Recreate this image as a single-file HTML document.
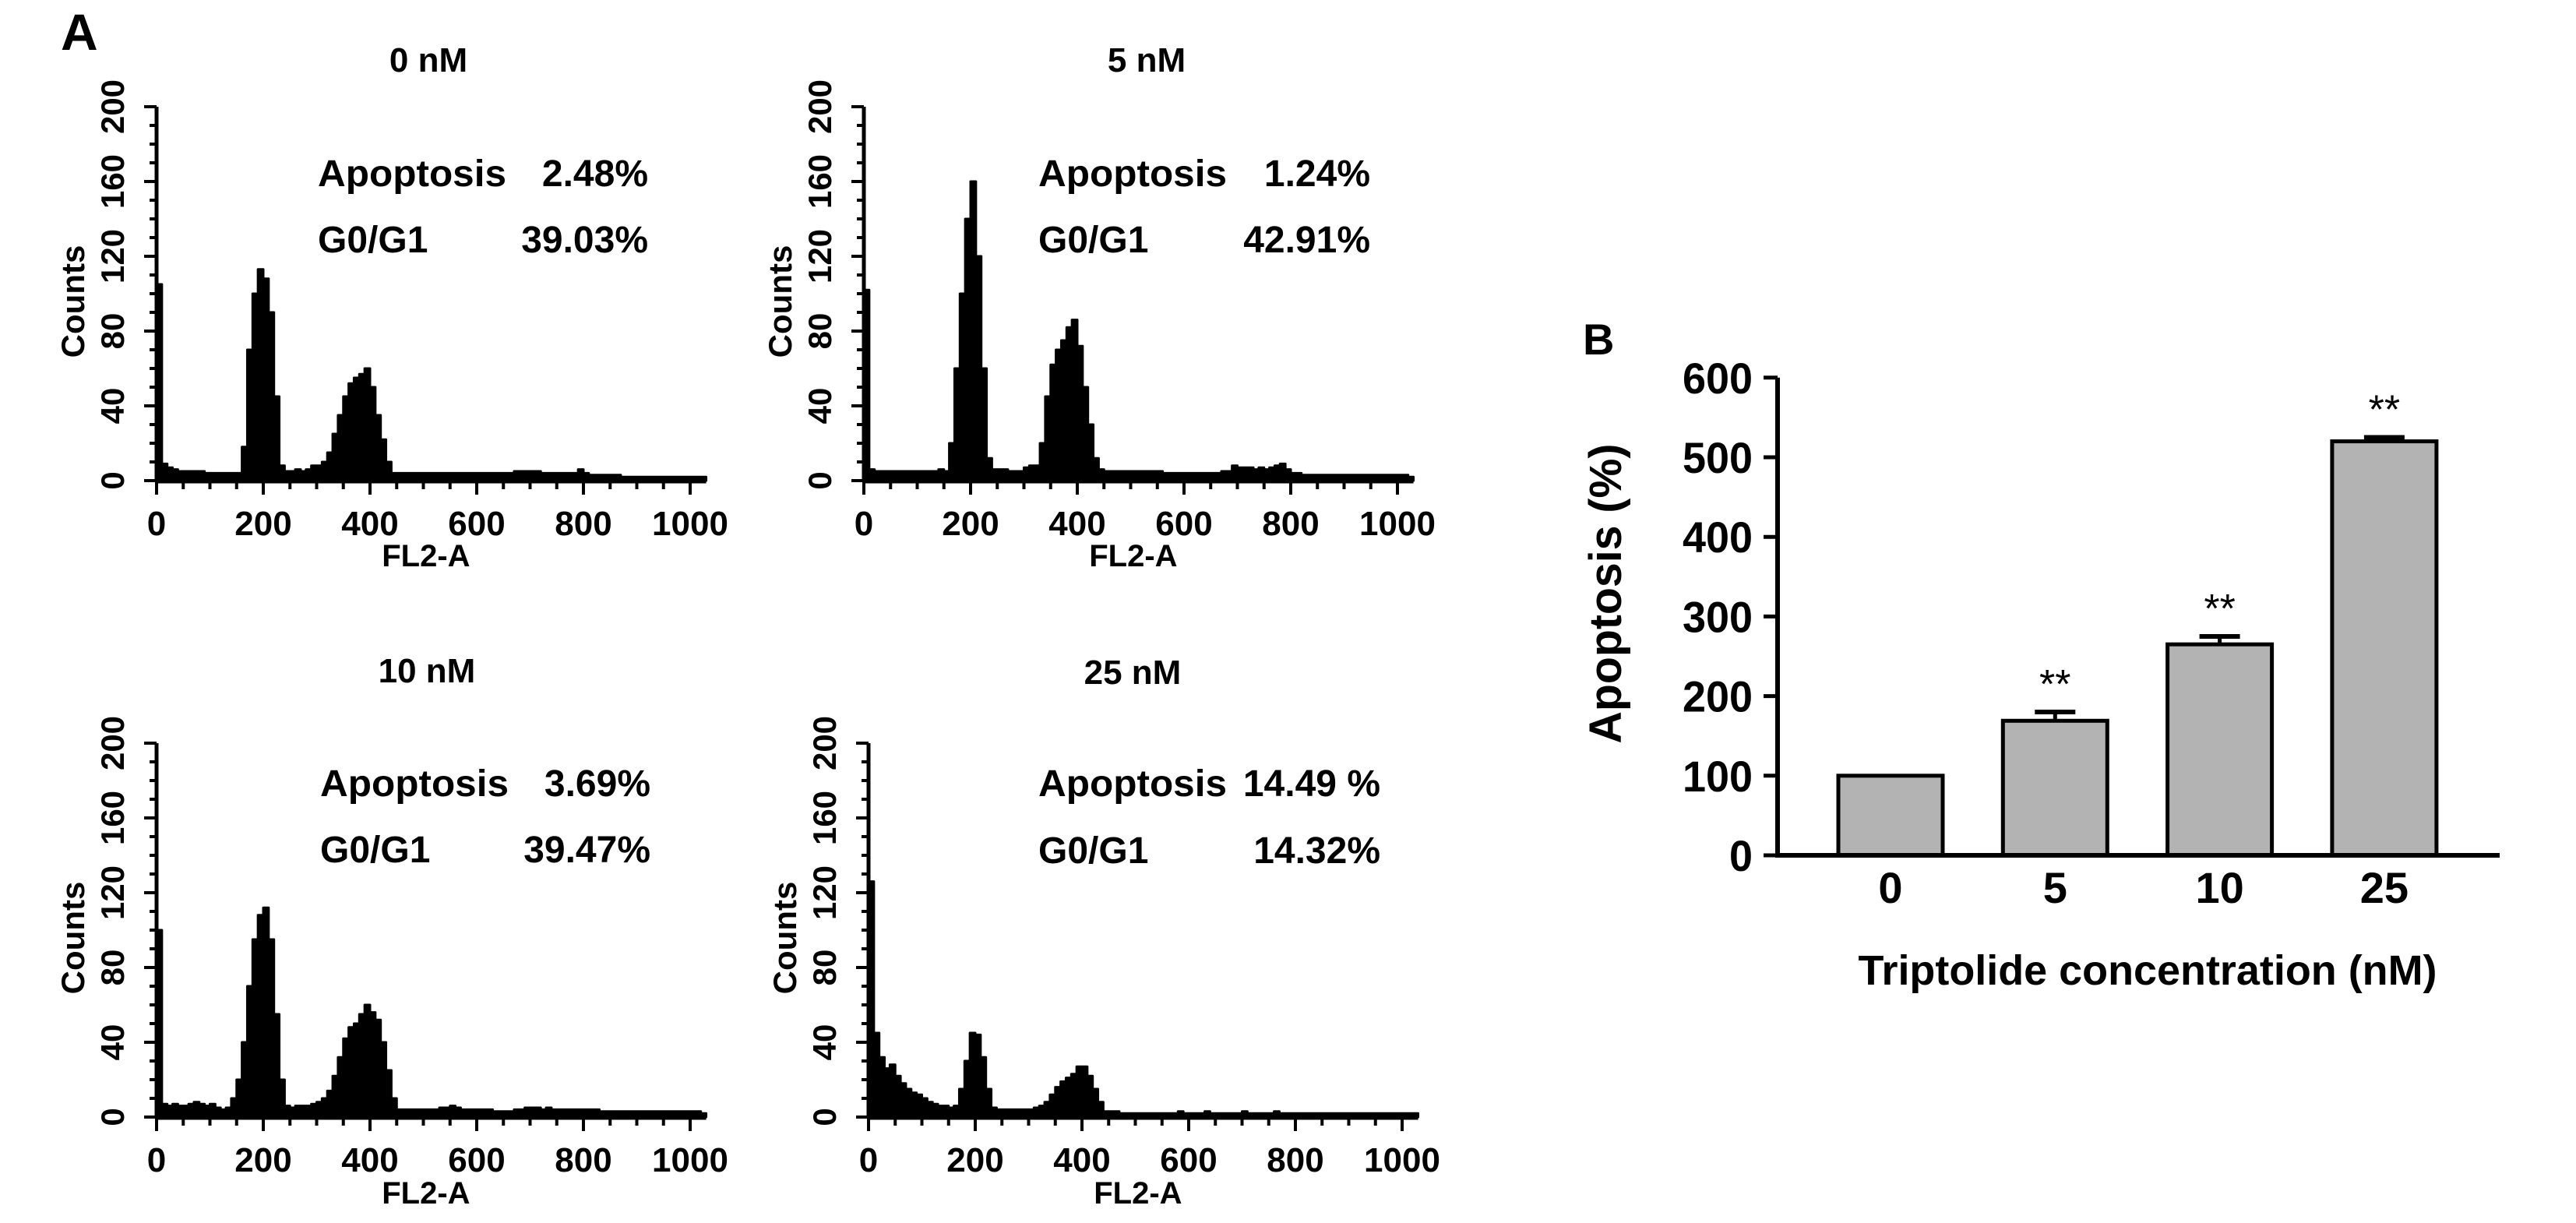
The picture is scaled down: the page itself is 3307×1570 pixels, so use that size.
<!DOCTYPE html>
<html><head><meta charset="utf-8"><style>
html,body{margin:0;padding:0;background:#fff;}
svg{display:block;font-family:"Liberation Sans",Arial,sans-serif;}
</style></head>
<body>
<svg id="fig" width="3307" height="1570" viewBox="0 0 3307 1570" xmlns="http://www.w3.org/2000/svg">
<rect x="0" y="0" width="3307" height="1570" fill="#fff"/>
<text x="78" y="64" font-size="66" font-weight="bold">A</text>
<text x="2032" y="455" font-size="56" font-weight="bold">B</text>
<g id="hists"></g>
<g id="bars"></g>
</svg>
<script>
// ---- Histogram data (counts per 10-unit FL2-A bin, 0..1020) ----
const hist0nM = [105,9,7,6,5,5,5,5,5,4, 4,4,4,4,4,4,18,70,100,113, 108,90,45,8,5,5,6,5,6,8, 8,10,15,25,35,45,52,55,57,60, 50,35,22,10,4,4,4,4,4,4, 4,4,4,4,4,4,4,4,4,4, 4,4,4,4,4,4,4,5,5,5, 5,5,4,4,4,4,4,4,4,6, 4,3,3,3,3,3,3,2,2,2, 2,2,2,2,2,2,2,2,2,2, 2,2,2];
const hist5nM = [102,6,5,5,5,5,5,5,5,5, 5,5,5,5,6,5,20,60,100,140, 160,120,60,12,6,6,6,5,5,5, 7,8,8,20,45,62,70,75,82,86, 72,50,30,12,6,5,5,5,5,5, 5,5,5,5,5,5,4,4,4,4, 4,4,4,4,4,4,4,5,5,8, 7,7,7,6,7,6,7,8,9,6, 4,4,3,3,3,3,3,3,3,3, 3,3,3,3,3,3,3,3,3,3, 3,3,2];
const hist10nM = [100,7,6,7,6,6,7,8,7,6, 7,5,4,5,10,20,40,70,95,108, 112,95,55,20,6,5,6,6,6,7, 8,10,14,22,32,42,48,50,55,60, 56,52,40,25,10,4,4,4,4,4, 4,4,4,5,5,6,5,4,4,4, 4,4,4,3,3,3,3,4,4,5, 5,5,4,5,4,4,4,4,4,4, 4,4,4,3,3,3,3,3,3,3, 3,3,3,3,3,3,3,3,3,3, 3,3,2];
const hist25nM = [126,45,32,26,28,22,18,15,13,12, 10,8,7,6,6,5,6,15,30,45, 44,32,15,5,4,4,4,4,4,4, 4,5,6,8,12,16,19,21,23,27, 27,22,15,8,3,3,3,2,2,2, 2,2,2,2,2,2,2,2,3,2, 2,2,2,3,2,2,2,2,2,2, 3,2,2,2,2,2,3,2,2,2, 2,2,2,2,2,2,2,2,2,2, 2,2,2,2,2,2,2,2,2,2, 2,2,2];
const histTitles = ["0 nM","5 nM","10 nM","25 nM"];
const apoptosisValues = ["2.48%","1.24%","3.69%","14.49 %"];
const g0g1Values = ["39.03%","42.91%","39.47%","14.32%"];
const yTickLabels = [0,40,80,120,160,200];
const xTickLabels = [0,200,400,600,800,1000];

// ---- Bar chart data ----
const barCategories = ["0","5","10","25"];
const barValues = [100,169,265,520];
const barErrors = [0,11,10,5];
const barStars = ["","**","**","**"];
const barYTicks = [0,100,200,300,400,500,600];

const NS="http://www.w3.org/2000/svg";
function mk(tag, attrs, parent, txt){
  const e=document.createElementNS(NS,tag);
  for(const k in attrs) e.setAttribute(k,attrs[k]);
  if(txt!==undefined) e.textContent=txt;
  parent.appendChild(e); return e;
}

const panels=[
 {data:hist0nM, ox:201, y0:617, tcx:550, tby:92, tl:408, tr:832, b1:239, b2:324, xl:687, fl:727},
 {data:hist5nM, ox:1109, y0:617, tcx:1472, tby:92, tl:1333, tr:1759, b1:239, b2:324, xl:687, fl:727},
 {data:hist10nM, ox:201, y0:1434, tcx:548, tby:876, tl:411, tr:835, b1:1022, b2:1107, xl:1504, fl:1545},
 {data:hist25nM, ox:1115, y0:1434, tcx:1454, tby:878, tl:1333, tr:1772, b1:1022, b2:1108, xl:1504, fl:1545}
];
const hg=document.getElementById('hists');
panels.forEach((p,i)=>{
  const kx=0.685, ky=2.4;
  const X=v=>p.ox+v*kx, Y=c=>p.y0-c*ky;
  const g=mk('g',{},hg);
  
  
  let d='M'+X(0)+','+Y(0);
  p.data.forEach((c,j)=>{ d+=' L'+X(j*10)+','+Y(c)+' L'+X(j*10+10)+','+Y(c); });
  d+=' L'+X(p.data.length*10)+','+Y(0)+' Z';
  const h=mk('path',{d:d,fill:'#000',stroke:'#000','stroke-width':3,'stroke-linejoin':'round'},g);
  
  
  const ya=mk('line',{x1:X(0),y1:Y(0)+2,x2:X(0),y2:Y(200),stroke:'#000','stroke-width':5},g);
  
  
  const xa=mk('line',{x1:X(0)-2,y1:Y(0),x2:X(p.data.length*10),y2:Y(0),stroke:'#000','stroke-width':7},g);
  
  
  for(let c=0;c<=200;c+=10){
    const major=c%40===0;
    mk('line',{x1:X(0)-(major?16:9),y1:Y(c),x2:X(0),y2:Y(c),stroke:'#000','stroke-width':4},g);
  }
  for(let v=0;v<=1000;v+=50){
    const major=v%200===0;
    mk('line',{x1:X(v),y1:Y(0),x2:X(v),y2:Y(0)+(major?18:11),stroke:'#000','stroke-width':4},g);
  }
  yTickLabels.forEach(t=>{
    const tx=mk('text',{x:0,y:0,'font-size':42,'font-weight':'bold','text-anchor':'middle',transform:'translate('+(X(0)-42)+','+Y(t)+') rotate(-90)'},g,String(t));
    
    
  });
  xTickLabels.forEach(t=>{
    const tx=mk('text',{x:X(t),y:p.xl,'font-size':44,'font-weight':'bold','text-anchor':'middle'},g,String(t));
    
    
  });
  const yt=mk('text',{x:0,y:0,'font-size':42,'font-weight':'bold','text-anchor':'middle',transform:'translate('+(X(0)-93)+','+(p.y0-230)+') rotate(-90)'},g,'Counts');
  
  
  const xt=mk('text',{x:X(505),y:p.fl,'font-size':40,'font-weight':'bold','text-anchor':'middle'},g,'FL2-A');
  
  
  const tt=mk('text',{x:p.tcx,y:p.tby,'font-size':44,'font-weight':'bold','text-anchor':'middle'},g,histTitles[i]);
  
  
  const a1=mk('text',{x:p.tl,y:p.b1,'font-size':48,'font-weight':'bold',textLength:242,lengthAdjust:'spacingAndGlyphs'},g,'Apoptosis');
  
  
  const a2=mk('text',{x:p.tr,y:p.b1,'font-size':48,'font-weight':'bold','text-anchor':'end'},g,apoptosisValues[i]);
  
  
  const g1=mk('text',{x:p.tl,y:p.b2,'font-size':48,'font-weight':'bold'},g,'G0/G1');
  
  
  const g2=mk('text',{x:p.tr,y:p.b2,'font-size':48,'font-weight':'bold','text-anchor':'end'},g,g0g1Values[i]);
  
  
});

// ---- Bar chart ----
const bg=document.getElementById('bars');
const BX0=2282, BX1=3209, BY0=1098, BKY=1.022;
const BY=v=>BY0-v*BKY;
const barCenter=i=>2427+i*211.3;
const bw=134;
barValues.forEach((v,i)=>{
  const cx=barCenter(i);
  if(barErrors[i]>0){
    const el=mk('line',{x1:cx,y1:BY(v),x2:cx,y2:BY(v+barErrors[i]),stroke:'#000','stroke-width':5},bg);
    
    
    mk('line',{x1:cx-26,y1:BY(v+barErrors[i]),x2:cx+26,y2:BY(v+barErrors[i]),stroke:'#000','stroke-width':6},bg);
  }
  const r=mk('rect',{x:cx-bw/2,y:BY(v),width:bw,height:BY0-BY(v),fill:'#b3b3b3',stroke:'#000','stroke-width':5},bg);
  
  
  if(barStars[i]){
    const s=mk('text',{x:cx,y:BY(v+barErrors[i])-18,'font-size':52,'text-anchor':'middle'},bg,barStars[i]);
    
    
  }
  const lb=mk('text',{x:cx,y:1159,'font-size':56,'font-weight':'bold','text-anchor':'middle'},bg,barCategories[i]);
  
  
});
const bya=mk('line',{x1:BX0,y1:BY0+3,x2:BX0,y2:BY(600),stroke:'#000','stroke-width':6},bg);


const bxa=mk('line',{x1:BX0,y1:BY0,x2:BX1,y2:BY0,stroke:'#000','stroke-width':6},bg);


barYTicks.forEach(t=>{
  mk('line',{x1:BX0-18,y1:BY(t),x2:BX0,y2:BY(t),stroke:'#000','stroke-width':5},bg);
  const tx=mk('text',{x:2250,y:BY(t)+20,'font-size':56,'font-weight':'bold','text-anchor':'end',textLength:String(t).length*30,lengthAdjust:'spacingAndGlyphs'},bg,String(t));
  
  
});
const byt=mk('text',{x:0,y:0,'font-size':58,'font-weight':'bold','text-anchor':'middle',textLength:385,lengthAdjust:'spacingAndGlyphs',transform:'translate(2081,762) rotate(-90)'},bg,'Apoptosis (%)');


const bxt=mk('text',{x:2757,y:1264,'font-size':54,'font-weight':'bold','text-anchor':'middle',textLength:743,lengthAdjust:'spacingAndGlyphs'},bg,'Triptolide concentration (nM)');


</script>
</body></html>
